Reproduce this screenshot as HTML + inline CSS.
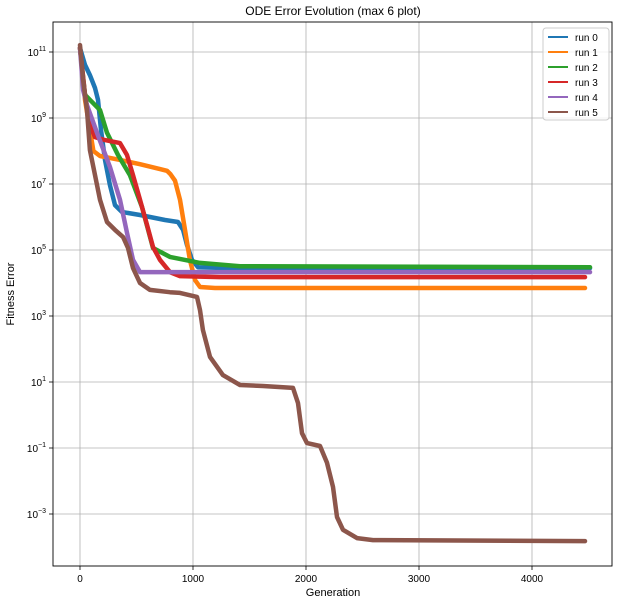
<!DOCTYPE html>
<html><head><meta charset="utf-8"><style>
body{margin:0;background:#fff;font-family:"Liberation Sans","DejaVu Sans",sans-serif;}
svg text{font-family:"Liberation Sans","DejaVu Sans",sans-serif;fill:#000;}
</style></head><body>
<svg id="chart" width="621" height="604" xmlns="http://www.w3.org/2000/svg">
<rect width="621" height="604" fill="#fff"/>
<g id="grid"></g>
<g id="series"></g>
<g id="axes"></g>
<text x="333" y="15" font-size="12" text-anchor="middle">ODE Error Evolution (max 6 plot)</text>
<text x="333" y="596" font-size="11" text-anchor="middle">Generation</text>
<text transform="translate(14,294) rotate(-90)" font-size="11" text-anchor="middle">Fitness Error</text>
<g id="legend"></g>
</svg>
<script>
const xTicks=[0,1000,2000,3000,4000];
const yTickExps=[11,9,7,5,3,1,-1,-3];
const runNames=["run 0","run 1","run 2","run 3","run 4","run 5"];
const runColors=["#1f77b4","#ff7f0e","#2ca02c","#d62728","#9467bd","#8c564b"];
// generations and log10(error) per run
const run0Gen=[0,44,88,133,159,186,221,265,310,372,531,752,867,912,947,991,1044,1327,4513];
const run0Log=[11.12,10.61,10.30,9.91,9.55,8.64,7.73,6.97,6.36,6.15,6.06,5.91,5.85,5.61,5.15,4.70,4.48,4.45,4.45];
const run1Gen=[0,44,88,119,177,354,531,708,770,800,841,885,929,973,1018,1062,1195,4469];
const run1Log=[11.12,9.55,8.64,8.00,7.85,7.73,7.60,7.45,7.40,7.30,7.10,6.52,5.61,4.70,4.09,3.88,3.85,3.85];
const run2Gen=[0,44,88,177,239,336,442,549,646,796,1062,1416,4513];
const run2Log=[11.12,9.70,9.55,9.24,8.55,7.88,7.27,6.30,5.06,4.79,4.61,4.51,4.48];
const run3Gen=[0,44,88,133,221,354,416,469,531,593,646,708,796,885,1239,4469];
const run3Log=[11.12,9.70,8.79,8.42,8.33,8.24,7.88,7.27,6.52,5.76,5.09,4.70,4.33,4.21,4.18,4.18];
const run4Gen=[0,27,62,150,265,354,416,469,531,885,4513];
const run4Log=[11.12,9.85,9.39,8.55,7.52,6.52,5.52,4.70,4.33,4.33,4.33];
const run5Gen=[0,27,62,88,133,177,239,310,381,425,469,531,619,796,885,1035,1062,1088,1150,1265,1416,1619,1885,1929,1965,2009,2124,2186,2239,2274,2327,2451,2593,4469];
const run5Log=[11.21,10.15,9.24,8.03,7.27,6.52,5.85,5.61,5.39,5.06,4.45,4.00,3.79,3.72,3.70,3.58,3.18,2.58,1.76,1.21,0.91,0.88,0.82,0.36,-0.55,-0.85,-0.94,-1.45,-2.18,-3.09,-3.48,-3.73,-3.79,-3.82];
const gens=[run0Gen,run1Gen,run2Gen,run3Gen,run4Gen,run5Gen];
const logs=[run0Log,run1Log,run2Log,run3Log,run4Log,run5Log];

const L=53,R=612,T=22,B=566;
const xs=g=>80+g*0.113;
const ys=l=>52+(11-l)*33;
const NS="http://www.w3.org/2000/svg";
function mk(tag,attrs,parent){const e=document.createElementNS(NS,tag);for(const k in attrs)e.setAttribute(k,attrs[k]);parent.appendChild(e);return e;}
const grid=document.getElementById('grid'),axes=document.getElementById('axes'),series=document.getElementById('series'),legend=document.getElementById('legend');
xTicks.forEach(t=>{
  const x=xs(t);
  const gl=mk('line',{x1:x,x2:x,y1:T,y2:B,stroke:'#b0b0b0','stroke-width':0.8},grid);
  
  
  mk('line',{x1:x,x2:x,y1:B,y2:B+4,stroke:'#000','stroke-width':0.8},axes);
  const tx=mk('text',{x:x,y:B+16,'font-size':10,'text-anchor':'middle'},axes);
  tx.textContent=t;
  
  
});
yTickExps.forEach(e=>{
  const y=ys(e);
  const gl=mk('line',{x1:L,x2:R,y1:y,y2:y,stroke:'#b0b0b0','stroke-width':0.8},grid);
  
  
  mk('line',{x1:L-4,x2:L,y1:y,y2:y,stroke:'#000','stroke-width':0.8},axes);
  const tx=mk('text',{x:L-7,y:y+4,'font-size':10,'text-anchor':'end'},axes);
  
  
  const a=mk('tspan',{},tx);a.textContent='10';
  const b=mk('tspan',{dy:-5,'font-size':7},tx);b.textContent=(e<0?'\u2212'+(-e):String(e));
});
const fr=mk('rect',{x:L,y:T,width:R-L,height:B-T,fill:'none',stroke:'#000','stroke-width':0.9},axes);


gens.forEach((g,i)=>{
  const pts=g.map((v,j)=>xs(v).toFixed(1)+','+ys(logs[i][j]).toFixed(1)).join(' ');
  const pl=mk('polyline',{points:pts,fill:'none',stroke:runColors[i],'stroke-width':4.5,'stroke-linejoin':'round','stroke-linecap':'round'},series);
  
  
});
const lb=mk('rect',{x:543,y:28,width:66,height:92,rx:3,fill:'#fff','fill-opacity':0.8,stroke:'#ccc','stroke-width':1},legend);


runNames.forEach((n,i)=>{
  const y=37+i*15;
  const g=mk('g',{},legend);
  
  
  mk('line',{x1:548,x2:568,y1:y,y2:y,stroke:runColors[i],'stroke-width':2},g);
  const t=mk('text',{x:575,y:y+4,'font-size':10},g);t.textContent=n;
});
</script>
</body></html>
